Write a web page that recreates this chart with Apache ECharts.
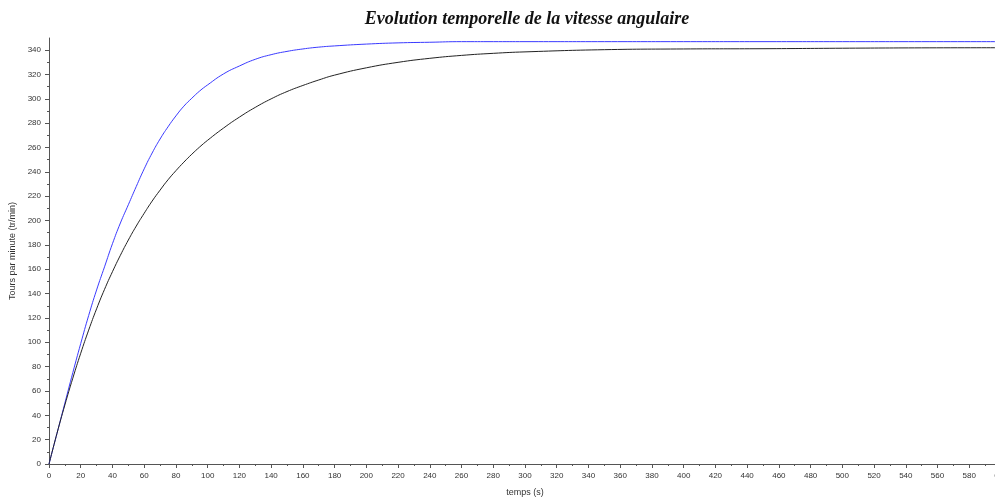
<!DOCTYPE html>
<html>
<head>
<meta charset="utf-8">
<script src="https://cdn.jsdelivr.net/npm/echarts@6/dist/echarts.min.js"></script>
<style>
html,body{margin:0;padding:0;background:#fff;}
#chart{width:995px;height:498px;}
</style>
</head>
<body>
<div id="chart"></div>
<script>
// time (s)
var times = [0,5,10,15,20,25,30,35,40,45,50,55,60,65,70,75,80,85,90,95,100,110,120,130,140,150,160,170,180,200,220,240,260,280,300,350,400,450,500,550,600];
// blue curve (tr/min)
var blueValues = [0,25,50,75,99,122,143,162,181,198,213,228,242.5,255.5,267,277,286,294,300.5,306.5,311.5,320.5,327,332.5,336.3,339,341,342.5,343.5,345,346,346.5,347,347,347,347,347,347,347,347,347];
// black curve (tr/min)
var blackValues = [0,25,48.5,70.5,91,110,127.5,143.5,158,171.5,184,195.5,206,216,225,233.5,241,248,254.5,260.5,266,276,285,293,300,306,311,315.5,319.5,325.5,330,333.3,335.7,337.4,338.6,340.4,341.0,341.2,341.6,341.9,342];
var yTicks = [0,20,40,60,80,100,120,140,160,180,200,220,240,260,280,300,320,340];
var yMinorTicks = [10,30,50,70,90,110,130,150,170,190,210,230,250,270,290,310,330];

function pairs(xs, ys){ var out=[]; for (var i=0;i<xs.length;i++) out.push([xs[i], ys[i]]); return out; }

var chart = echarts.init(document.getElementById('chart'), null, {renderer:'canvas'});
var axisColor = '#555';
var labelStyle = {color:'#333', fontSize:8, fontFamily:'Liberation Sans, Arial, sans-serif'};
chart.setOption({
  animation:false,
  backgroundColor:'#fff',
  title:{
    text:'Evolution temporelle de la vitesse angulaire',
    left:522, top:5, textAlign:'center',
    textStyle:{fontFamily:'Liberation Serif, Times New Roman, serif', fontStyle:'italic', fontWeight:'bold', fontSize:18, color:'#111'}
  },
  grid:{left:49, top:38, right:-6, bottom:34, containLabel:false, outerBoundsMode:'none'},
  xAxis:{
    type:'value', min:0, max:600, interval:20,
    name:'temps (s)', nameLocation:'middle', nameGap:24,
    nameTextStyle:{color:'#333', fontSize:9, fontFamily:'Liberation Sans, Arial, sans-serif'},
    axisLine:{show:true, onZero:false, lineStyle:{color:axisColor, width:1}},
    axisTick:{show:true, length:4, lineStyle:{color:axisColor}},
    minorTick:{show:true, splitNumber:2, length:2, lineStyle:{color:axisColor}},
    axisLabel:Object.assign({margin:8, showMaxLabel:true, hideOverlap:false}, labelStyle),
    splitLine:{show:false}, minorSplitLine:{show:false}
  },
  yAxis:[{
    type:'value', min:0, max:350,
    name:'Tours par minute (tr/min)', nameLocation:'middle', nameGap:30,
    nameTextStyle:{color:'#333', fontSize:9, fontFamily:'Liberation Sans, Arial, sans-serif'},
    axisLine:{show:true, onZero:false, lineStyle:{color:axisColor, width:1}},
    axisTick:{show:true, length:4, customValues:yTicks, lineStyle:{color:axisColor}},
    axisLabel:Object.assign({margin:8, customValues:yTicks}, labelStyle),
    splitLine:{show:false}
  },{
    type:'value', min:0, max:350, position:'left',
    axisLine:{show:false},
    axisTick:{show:true, length:2, customValues:yMinorTicks, lineStyle:{color:axisColor}},
    axisLabel:{show:false},
    splitLine:{show:false}
  }],
  series:[{
    type:'line', data:pairs(times, blueValues), showSymbol:false, smooth:0.5,
    lineStyle:{color:'#3a3aff', width:1}, itemStyle:{color:'#3a3aff'}
  },{
    type:'line', data:pairs(times, blackValues), showSymbol:false, smooth:0.5,
    lineStyle:{color:'#222', width:1}, itemStyle:{color:'#222'}
  }]
});
</script>
</body>
</html>
